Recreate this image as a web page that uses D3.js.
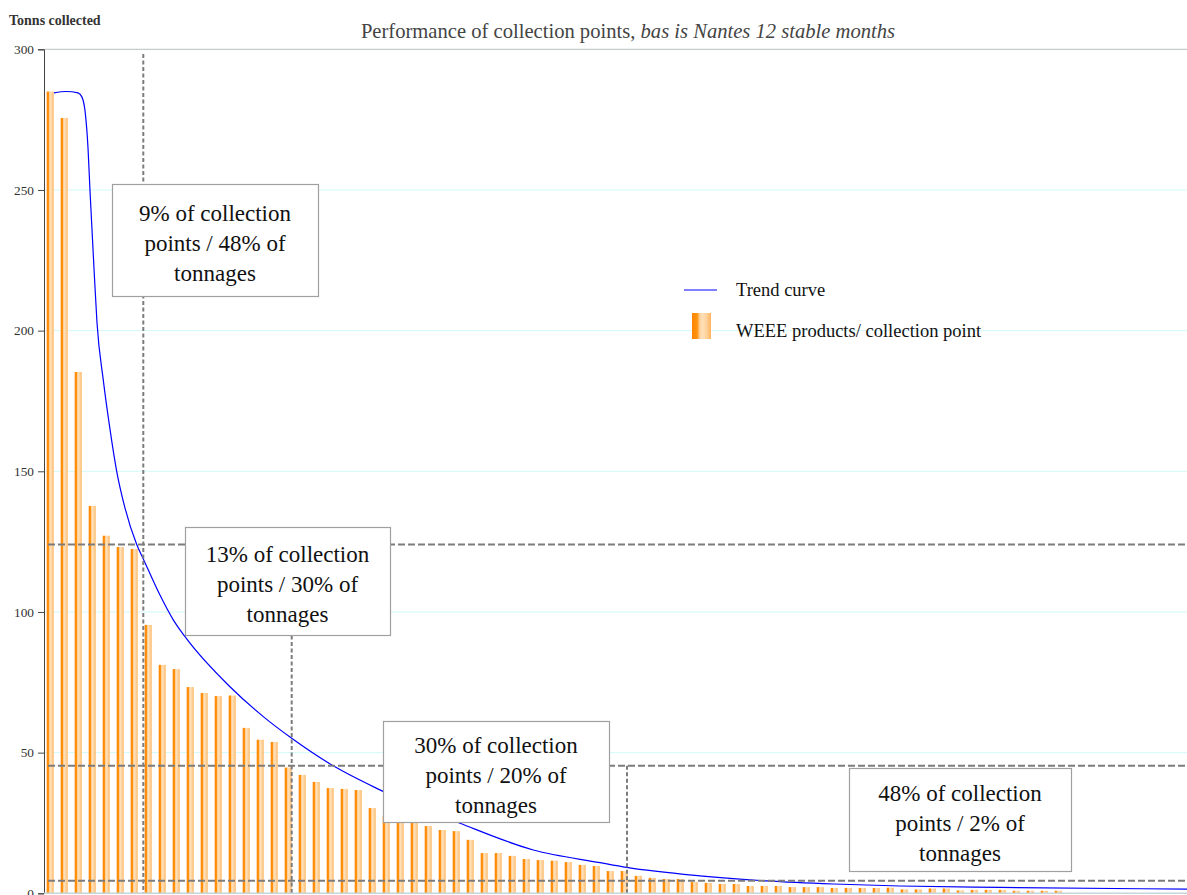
<!DOCTYPE html>
<html>
<head>
<meta charset="utf-8">
<script src="https://cdn.jsdelivr.net/npm/d3@7"></script>
<style>
  html, body { margin: 0; padding: 0; background: #fff; }
  svg { display: block; font-family: "Liberation Serif", "Times New Roman", serif; }
</style>
</head>
<body>
<svg id="chart" width="1187" height="895"></svg>
<script>
// ---------------- DATA ----------------
const barValues = [
  285, 275.6, 185.3, 137.7, 127.1, 123.1, 122.4, 95.4,
  81.2, 79.7, 73.3, 71.2, 70.1, 70.3, 58.8, 54.6, 53.8,
  44.7, 42.1, 39.6, 37.4, 37.1, 36.7, 30.3, 27.6, 26.5, 26,
  23.9, 22.5, 22.1, 19.0, 14.3, 14.3, 13.3, 12.2, 11.8, 11.6,
  11.1, 10.1, 9.7, 7.9, 7.9, 6.2, 5.5, 5.1, 5.1, 4.0, 3.7,
  3.3, 3.3, 2.6, 2.6, 2.6, 2.2, 2.2, 2.2, 1.9, 1.9, 1.9, 1.9,
  2.0, 1.4, 1.4, 1.7, 1.7, 1.0, 1.2, 1.2, 1.2, 0.9, 0.9, 0.9, 0.9
];
const categories = barValues.map((d, i) => i + 1);

// trend curve: position (in bar-index units, bar centre = index) and value
const trendPos = [0.27, 1.13, 1.99, 2.27, 2.49, 2.7, 2.84, 3.13, 3.34, 3.79, 4.27, 4.75,
  5.34, 6.18, 6.7, 7.84, 8.79, 9.63, 12.84, 15.22, 17.25, 20.22, 23.32, 29.27, 34.51,
  39.27, 41.18, 46.41, 51.18, 55.94, 60.7, 67.84, 81.2];
const trendVal = [284.5, 285, 284.5, 283, 278, 265, 250, 222, 203, 182.5, 165, 150,
  137, 124, 118.3, 106, 97.2, 91.2, 73.4, 62.8, 55.1, 45.3, 37.3, 24.9, 15.4,
  10.9, 9.2, 6.2, 4.4, 3.3, 2.6, 2.1, 1.5];

const yTicks = [0, 50, 100, 150, 200, 250, 300];

// reference (threshold) lines
const refLinePos = [6.65, 17.25, 41.2];     // vertical, bar-index units
const refLineVal = [124, 45.3, 4.5];        // horizontal, tonnes
const refLineTop = [298.3, 124, 45.3];      // where each vertical line starts

const annotationLines = [
  ["9% of collection", "points / 48% of", "tonnages"],
  ["13% of collection", "points / 30% of", "tonnages"],
  ["30% of collection", "points / 20% of", "tonnages"],
  ["48% of collection", "points / 2% of", "tonnages"]
];

const titleMain = "Performance of collection points, ";
const titleItalic = "bas is Nantes 12 stable months";
const yTitle = "Tonns collected";
const legendLabels = ["Trend curve", "WEEE products/ collection point"];

// ---------------- LAYOUT ----------------
const W = 1187, H = 895;
const plotLeft = 44, plotTop = 49.3, plotBottom = 893.3, plotRight = W;
const step = 14;
const boxes = [ // x, y, w, h in pixels
  {x: 112, y: 184, w: 206, h: 112},
  {x: 185, y: 527, w: 205, h: 108},
  {x: 383, y: 721, w: 226, h: 101},
  {x: 849, y: 768, w: 222, h: 103}
];

const svg = d3.select("#chart");

const x = d3.scaleBand()
  .domain(categories)
  .range([43.2, 43.2 + categories.length * step])
  .paddingInner(0.5)
  .paddingOuter(0.25);
const xc = d3.scaleLinear()
  .domain([0, categories.length - 1])
  .range([x(categories[0]) + x.bandwidth() / 2,
          x(categories[categories.length - 1]) + x.bandwidth() / 2]);
const y = d3.scaleLinear().domain([0, 300]).range([plotBottom, plotTop]);

// gradient for bars
const defs = svg.append("defs");
const grad = defs.append("linearGradient").attr("id", "barGrad")
  .attr("x1", "0%").attr("x2", "100%").attr("y1", "0%").attr("y2", "0%");
[["0%", "#ff8400"], ["28%", "#ff9410"], ["40%", "#ffcf98"], ["55%", "#ffe0b8"],
 ["78%", "#ffd09a"], ["100%", "#ffb25a"]].forEach(([o, c]) =>
  grad.append("stop").attr("offset", o).attr("stop-color", c));

// gridlines
svg.append("g").selectAll("line")
  .data(yTicks.filter(t => t > 0 && t < 300))
  .join("line")
  .attr("x1", plotLeft).attr("x2", plotRight)
  .attr("y1", d => y(d)).attr("y2", d => y(d))
  .attr("stroke", "#d2fafa").attr("stroke-width", 1);
// top border line
svg.append("line").attr("x1", plotLeft).attr("x2", plotRight)
  .attr("y1", y(300)).attr("y2", y(300))
  .attr("stroke", "#b7c0c0").attr("stroke-width", 1);

// bars
svg.append("g").selectAll("rect")
  .data(barValues)
  .join("rect")
  .attr("x", (d, i) => x(categories[i]))
  .attr("width", x.bandwidth())
  .attr("y", d => y(d))
  .attr("height", d => y(0) - y(d))
  .attr("fill", "url(#barGrad)");

// trend curve
const trendData = trendPos.map((p, i) => [p, trendVal[i]]);
svg.append("path")
  .datum(trendData)
  .attr("d", d3.line().x(d => xc(d[0])).y(d => y(d[1])).curve(d3.curveMonotoneX))
  .attr("fill", "none").attr("stroke", "#0000ff").attr("stroke-width", 1.2);

// reference lines
svg.append("g").selectAll("line")
  .data(refLineVal)
  .join("line")
  .attr("x1", plotLeft + 4).attr("x2", plotRight)
  .attr("y1", d => y(d)).attr("y2", d => y(d))
  .attr("stroke", "#7c7c7c").attr("stroke-width", 2)
  .attr("stroke-dasharray", "7,3");
svg.append("g").selectAll("line")
  .data(refLinePos)
  .join("line")
  .attr("x1", d => xc(d)).attr("x2", d => xc(d))
  .attr("y1", (d, i) => y(refLineTop[i])).attr("y2", y(0))
  .attr("stroke", "#7c7c7c").attr("stroke-width", 2)
  .attr("stroke-dasharray", "4,2.5");

// annotation boxes
const ann = svg.append("g").selectAll("g")
  .data(annotationLines)
  .join("g");
ann.append("rect")
  .attr("x", (d, i) => boxes[i].x + 0.5).attr("y", (d, i) => boxes[i].y + 0.5)
  .attr("width", (d, i) => boxes[i].w).attr("height", (d, i) => boxes[i].h)
  .attr("fill", "#fff").attr("stroke", "#a0a0a0").attr("stroke-width", 1.2);
ann.each(function(lines, i) {
  const b = boxes[i];
  const cx = b.x + b.w / 2, cy = b.y + b.h / 2 + 11;
  d3.select(this).selectAll("text")
    .data(lines)
    .join("text")
    .attr("x", cx)
    .attr("y", (t, k) => cy + (k - 1) * 30)
    .attr("text-anchor", "middle")
    .attr("font-size", 23)
    .attr("fill", "#111")
    .text(t => t);
});

// legend
const lg = svg.append("g");
lg.append("line").attr("x1", 684).attr("x2", 717).attr("y1", 290).attr("y2", 290)
  .attr("stroke", "#0000ff").attr("stroke-width", 1.2);
lg.append("rect").attr("x", 692).attr("y", 313).attr("width", 19).attr("height", 26)
  .attr("fill", "url(#barGrad)");
lg.selectAll("text").data(legendLabels).join("text")
  .attr("x", 736).attr("y", (d, i) => i === 0 ? 295.5 : 337)
  .attr("font-size", 18.5).attr("fill", "#111")
  .text(d => d);

// y axis
const yAxis = svg.append("g").attr("transform", `translate(${plotLeft},0)`)
  .call(d3.axisLeft(y).tickValues(yTicks).tickSize(6).tickPadding(4));
yAxis.select(".domain").attr("stroke", "#444");
yAxis.selectAll(".tick line").attr("stroke", "#444");
yAxis.selectAll(".tick text").attr("font-size", 13.3).attr("fill", "#333")
  .attr("font-family", "'Liberation Serif','Times New Roman',serif");

// x baseline
svg.append("line").attr("x1", plotLeft).attr("x2", plotRight)
  .attr("y1", y(0)).attr("y2", y(0))
  .attr("stroke", "#c4d6da").attr("stroke-width", 1.5);

// titles
const t = svg.append("text").attr("x", 628).attr("y", 38)
  .attr("text-anchor", "middle").attr("font-size", 20.6).attr("fill", "#444");
t.append("tspan").text(titleMain);
t.append("tspan").attr("font-style", "italic").text(titleItalic);

svg.append("text").attr("x", 9).attr("y", 25)
  .attr("font-size", 14).attr("font-weight", "bold").attr("fill", "#333")
  .text(yTitle);
</script>
</body>
</html>
